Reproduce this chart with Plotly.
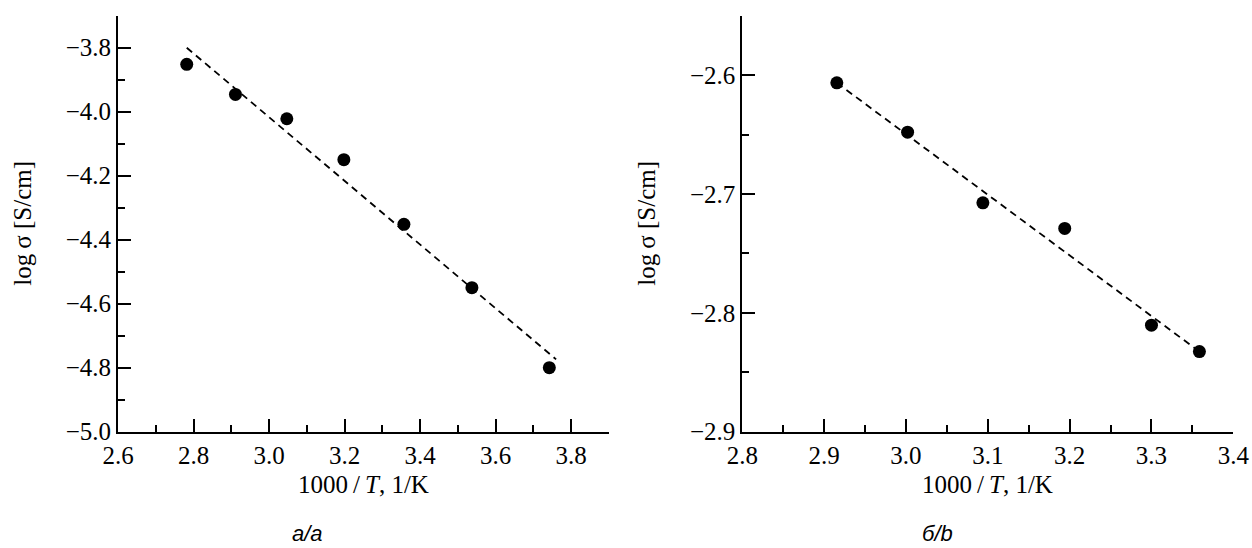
import plotly.graph_objects as go

# Panel a
xa = [2.782, 2.911, 3.047, 3.198, 3.357, 3.537, 3.742]
ya = [-3.852, -3.946, -4.022, -4.150, -4.352, -4.550, -4.800]
fit_xa = [2.782, 3.760]
fit_ya = [-3.800, -4.774]
xticks_a = [2.6, 2.8, 3.0, 3.2, 3.4, 3.6, 3.8]
yticks_a = [-5.0, -4.8, -4.6, -4.4, -4.2, -4.0, -3.8]

# Panel b
xb = [2.9155, 3.002, 3.094, 3.194, 3.300, 3.3586]
yb = [-2.6065, -2.648, -2.7074, -2.729, -2.8104, -2.8326]
fit_xb = [2.9155, 3.3586]
fit_yb = [-2.6065, -2.8326]
xticks_b = [2.8, 2.9, 3.0, 3.1, 3.2, 3.3, 3.4]
yticks_b = [-2.9, -2.8, -2.7, -2.6]

W, H = 1252, 548
SERIF = "Liberation Serif"
FS = 25

fig = go.Figure()
fig.add_trace(go.Scatter(x=fit_xa, y=fit_ya, mode="lines",
                         line=dict(color="black", width=1.8, dash="7px,5px"),
                         xaxis="x", yaxis="y", showlegend=False, hoverinfo="skip"))
fig.add_trace(go.Scatter(x=xa, y=ya, mode="markers",
                         marker=dict(color="black", size=13),
                         xaxis="x", yaxis="y", showlegend=False))
fig.add_trace(go.Scatter(x=fit_xb, y=fit_yb, mode="lines",
                         line=dict(color="black", width=1.8, dash="7px,5px"),
                         xaxis="x2", yaxis="y2", showlegend=False, hoverinfo="skip"))
fig.add_trace(go.Scatter(x=xb, y=yb, mode="markers",
                         marker=dict(color="black", size=13),
                         xaxis="x2", yaxis="y2", showlegend=False))

x1d = [118 / W, 609 / W]
x2d = [742.3 / W, 1233.3 / W]
yd = [1 - 431.7 / H, 1 - 15.7 / H]

def ax(rng, ticks, mdtick, domain, anchor):
    return dict(range=rng, tickmode="array", tickvals=ticks,
                ticktext=[fmt(v) for v in ticks],
                domain=domain, anchor=anchor, showgrid=False, zeroline=False,
                showline=True, linecolor="black", linewidth=2,
                ticks="inside", ticklen=13, tickwidth=1.5, tickcolor="black",
                tickfont=dict(family="Liberation Serif, Times New Roman, serif",
                              size=FS, color="black"),
                minor=dict(ticks="inside", ticklen=7, tickwidth=1.5, tickcolor="black",
                           tick0=rng[0], dtick=mdtick, showgrid=False),
                fixedrange=True, automargin=False)

def fmt(v):
    s = f"{abs(v):.1f}"
    return ("\u2212" + s) if v < 0 else s

fig.update_layout(
    width=W, height=H,
    margin=dict(l=0, r=0, t=0, b=0),
    font=dict(family=SERIF, size=FS, color="black"),
    paper_bgcolor="white", plot_bgcolor="white",
    xaxis=ax([2.6, 3.9], xticks_a, 0.1, x1d, "y"),
    yaxis=ax([-5.0, -3.7], yticks_a, 0.1, yd, "x"),
    xaxis2=ax([2.8, 3.4], xticks_b, 0.05, x2d, "y2"),
    yaxis2=ax([-2.9, -2.55], yticks_b, 0.05, yd, "x2"),
)

tf = dict(family=SERIF, size=FS, color="black")
ann = []
xtitle = "1000\u2009/\u2009<i>T</i>, 1/K"
ytitle = "log\u2009σ [S/cm]"
for cx in [(118 + 609) / 2, (742.3 + 1233.3) / 2]:
    ann.append(dict(x=cx / W, y=1 - 484 / H, xref="paper", yref="paper",
                    text=xtitle, showarrow=False, xanchor="center", yanchor="middle",
                    font=tf))
for cx in [23, 647]:
    ann.append(dict(x=cx / W, y=1 - 223.7 / H, xref="paper", yref="paper",
                    text=ytitle, showarrow=False, textangle=-90,
                    xanchor="center", yanchor="middle", font=tf))
for cx, t in [(307, "<i>а/a</i>"), (937, "<i>б/b</i>")]:
    ann.append(dict(x=cx / W, y=0, xref="paper", yref="paper",
                    text=t, showarrow=False, xanchor="center", yanchor="bottom",
                    font=dict(family="Liberation Sans", size=22, color="black")))
fig.update_layout(annotations=ann)

fig.write_html("out.html", config={"displayModeBar": False})
